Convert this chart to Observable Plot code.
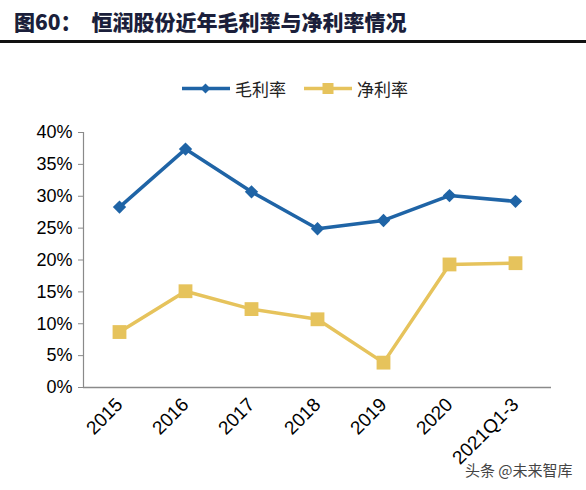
<!DOCTYPE html>
<html>
<head>
<meta charset="utf-8">
<script src="https://cdn.jsdelivr.net/npm/d3@7"></script>
<script src="https://cdn.jsdelivr.net/npm/@observablehq/plot@0.6"></script>
<style>
  body { margin:0; width:586px; height:490px; position:relative; overflow:hidden; background:#fff; }
  #title { position:absolute; left:14px; top:6px; font-family:"Noto Sans CJK SC"; font-weight:900; font-size:21px; color:#1b1f3b; white-space:nowrap; letter-spacing:0px; }
  #title .t { margin-left:10px; }
  #rule { position:absolute; left:0; top:40px; width:586px; height:2.5px; background:#111; }
  #legend { position:absolute; left:182px; top:76px; font-family:"Noto Sans CJK SC"; font-size:17px; color:#222; display:flex; align-items:center; }
  #legend .item { display:flex; align-items:center; margin-right:18px; }
  #legend svg { margin-right:5px; }
  #chart { position:absolute; left:0; top:100px; }
  #wm { position:absolute; left:465px; top:459px; font-family:"Noto Sans CJK SC"; font-size:15px; color:#444; text-shadow:0 0 2px #fff, 0 0 2px #fff; white-space:nowrap; }
</style>
</head>
<body>
<div id="title">图60：<span class="t">恒润股份近年毛利率与净利率情况</span></div>
<div id="rule"></div>
<div id="legend"></div>
<div id="chart"></div>
<div id="wm">头条 @未来智库</div>
<script>
const categories = ["2015", "2016", "2017", "2018", "2019", "2020", "2021Q1-3"];
const grossMargin = [0.283, 0.374, 0.307, 0.249, 0.262, 0.301, 0.292];
const netMargin = [0.087, 0.151, 0.123, 0.107, 0.039, 0.193, 0.195];
const yTicks = [0, 0.05, 0.10, 0.15, 0.20, 0.25, 0.30, 0.35, 0.40];
const seriesNames = ["毛利率", "净利率"];
const blue = "#1f64a6";
const yellow = "#e6c35c";

const gross = categories.map((c, i) => ({cat: c, v: grossMargin[i]}));
const net = categories.map((c, i) => ({cat: c, v: netMargin[i]}));

// legend
const legend = document.getElementById("legend");
[[seriesNames[0], blue, "diamond"], [seriesNames[1], yellow, "square"]].forEach(([name, col, sym]) => {
  const item = document.createElement("div");
  item.className = "item";
  const marker = sym === "diamond"
    ? `<rect x="20" y="7" width="7" height="7" fill="${col}" transform="rotate(45 23.5 10.5)"/>`
    : `<rect x="18.5" y="5" width="11" height="11" fill="${col}"/>`;
  item.innerHTML = `<svg width="48" height="21"><line x1="0" x2="48" y1="10.5" y2="10.5" stroke="${col}" stroke-width="3.5"/>${marker}</svg><span>${name}</span>`;
  legend.appendChild(item);
});

const chart = Plot.plot({
  width: 586,
  height: 390,
  marginLeft: 83,
  marginRight: 35,
  marginTop: 32,
  marginBottom: 103,
  style: {fontFamily: "'Liberation Sans', Arial, sans-serif", fontSize: "18px", color: "#000", background: "#fff"},
  x: {type: "band", domain: categories, padding: 0},
  y: {domain: [0, 0.4]},
  marks: [
    Plot.frame({anchor: "left", stroke: "#8a8a8a", strokeWidth: 1.2}),
    Plot.ruleY([0], {stroke: "#8a8a8a", strokeWidth: 1.5}),
    Plot.axisY({ticks: yTicks, tickFormat: d3.format(".0%"), tickSize: 5, tickPadding: 6, stroke: "#8a8a8a", fill: "#000", label: null, fontSize: 18}),
    Plot.axisX({tickSize: 0, tickRotate: -45, tickPadding: 14, label: null, fill: "#000", fontSize: 19}),
    Plot.line(gross, {x: "cat", y: "v", stroke: blue, strokeWidth: 3.5}),
    Plot.dot(gross, {x: "cat", y: "v", symbol: "diamond2", r: 6, fill: blue}),
    Plot.line(net, {x: "cat", y: "v", stroke: yellow, strokeWidth: 3.5}),
    Plot.dot(net, {x: "cat", y: "v", symbol: "square", r: 7.8, fill: yellow})
  ]
});
document.getElementById("chart").appendChild(chart);
</script>
</body>
</html>
